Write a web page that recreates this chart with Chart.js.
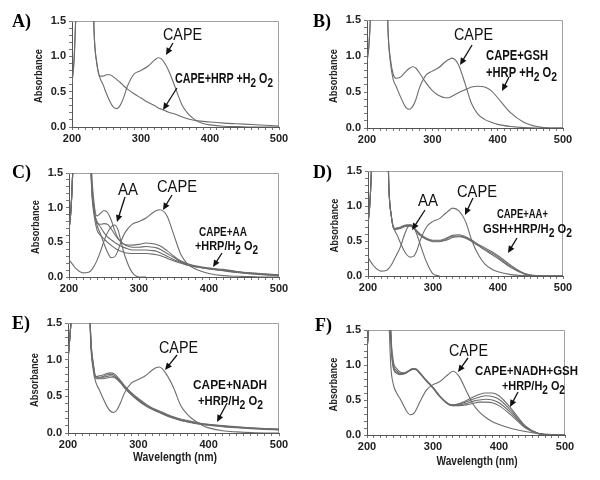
<!DOCTYPE html>
<html>
<head>
<meta charset="utf-8">
<script src="https://cdn.jsdelivr.net/npm/chart.js@4.4.1/dist/chart.umd.min.js"></script>
<style>
  html, body { margin: 0; padding: 0; background: #fff; }
  #fig { position: relative; width: 600px; height: 480px; overflow: hidden; background: #fff; }
  #fig canvas { position: absolute; }
</style>
</head>
<body>
<div id="fig"></div>
<script>
// wavelength grid (nm) shared by every spectrum
const wavelengths = [200, 203, 206, 210, 220, 228, 232, 236, 240, 245, 250, 255, 260, 265, 270, 275, 280, 290, 300, 310, 320, 325, 330, 340, 350, 360, 370, 380, 390, 400, 420, 440, 460, 480, 500];

// A) CAPE / CAPE+HRP+H2O2
const capeA = [0.62, 0.95, 1.7, 3, 3, 3, 1.35, 0.9, 0.71, 0.6, 0.47, 0.36, 0.28, 0.26, 0.31, 0.42, 0.57, 0.75, 0.8, 0.86, 0.95, 0.98, 0.96, 0.8, 0.55, 0.3, 0.17, 0.09, 0.05, 0.03, 0.01, 0.005, 0, 0, 0];
const prodA = [0.62, 0.95, 1.7, 3, 3, 3, 1.35, 0.9, 0.72, 0.72, 0.74, 0.74, 0.71, 0.67, 0.63, 0.58, 0.54, 0.47, 0.41, 0.35, 0.3, 0.27, 0.25, 0.21, 0.18, 0.14, 0.11, 0.09, 0.08, 0.07, 0.055, 0.045, 0.035, 0.025, 0.015];

// B) CAPE / CAPE+GSH+HRP+H2O2
const capeB = [0.92, 1.15, 1.7, 3, 3, 3, 1.4, 0.9, 0.68, 0.57, 0.46, 0.36, 0.28, 0.26, 0.3, 0.4, 0.55, 0.73, 0.79, 0.84, 0.92, 0.95, 0.97, 0.88, 0.62, 0.34, 0.19, 0.12, 0.08, 0.05, 0.02, 0.005, 0, 0, 0];
const prodB = [0.92, 1.15, 1.7, 3, 3, 3, 1.4, 0.95, 0.75, 0.69, 0.7, 0.74, 0.79, 0.83, 0.85, 0.83, 0.77, 0.63, 0.52, 0.45, 0.42, 0.42, 0.44, 0.49, 0.53, 0.57, 0.58, 0.57, 0.52, 0.42, 0.21, 0.08, 0.02, 0, 0];

// C) CAPE / AA / CAPE+AA+HRP/H2O2 (4 scans)
const capeC = [0.68, 1.0, 1.7, 3, 3, 3, 1.4, 0.95, 0.75, 0.62, 0.48, 0.36, 0.28, 0.29, 0.38, 0.53, 0.64, 0.76, 0.8, 0.85, 0.93, 0.96, 0.97, 0.88, 0.6, 0.32, 0.18, 0.12, 0.08, 0.05, 0.02, 0.01, 0.005, 0, 0];
const aaC = [0.25, 0.21, 0.17, 0.12, 0.06, 0.07, 0.1, 0.16, 0.24, 0.37, 0.52, 0.64, 0.72, 0.75, 0.68, 0.48, 0.3, 0.07, 0, 0, null, null, null, null, null, null, null, null, null, null, null, null, null, null, null];
const prodC1 = [0.68, 1.0, 1.7, 3, 3, 3, 1.6, 1.05, 0.88, 0.92, 0.96, 0.93, 0.83, 0.68, 0.56, 0.5, 0.47, 0.46, 0.47, 0.49, 0.48, 0.47, 0.45, 0.38, 0.3, 0.23, 0.19, 0.16, 0.145, 0.13, 0.11, 0.08, 0.06, 0.045, 0.03];
const prodC2 = [0.68, 1.0, 1.7, 3, 3, 3, 1.45, 0.98, 0.78, 0.76, 0.77, 0.76, 0.7, 0.62, 0.55, 0.5, 0.46, 0.43, 0.43, 0.44, 0.43, 0.42, 0.4, 0.34, 0.28, 0.22, 0.18, 0.155, 0.14, 0.125, 0.1, 0.075, 0.055, 0.04, 0.028];
const prodC3 = [0.68, 1.0, 1.7, 3, 3, 3, 1.4, 0.94, 0.8, 0.72, 0.64, 0.58, 0.54, 0.5, 0.47, 0.44, 0.42, 0.39, 0.39, 0.39, 0.38, 0.37, 0.35, 0.3, 0.25, 0.21, 0.17, 0.15, 0.135, 0.12, 0.095, 0.07, 0.05, 0.035, 0.025];
const prodC4 = [0.68, 1.0, 1.7, 3, 3, 3, 1.35, 0.88, 0.68, 0.6, 0.55, 0.5, 0.46, 0.42, 0.39, 0.37, 0.35, 0.34, 0.34, 0.34, 0.33, 0.32, 0.31, 0.27, 0.23, 0.2, 0.17, 0.15, 0.13, 0.115, 0.09, 0.065, 0.045, 0.03, 0.02];

// D) CAPE / AA / CAPE+AA+GSH+HRP/H2O2 (3 scans)
const capeD = [0.75, 1.05, 1.7, 3, 3, 3, 1.3, 0.85, 0.68, 0.58, 0.47, 0.37, 0.3, 0.27, 0.28, 0.36, 0.5, 0.7, 0.78, 0.82, 0.9, 0.94, 0.97, 0.93, 0.78, 0.5, 0.3, 0.17, 0.1, 0.06, 0.02, 0.005, 0, 0, 0];
const aaD = [0.27, 0.22, 0.18, 0.13, 0.07, 0.08, 0.11, 0.16, 0.23, 0.32, 0.42, 0.56, 0.68, 0.73, 0.7, 0.6, 0.46, 0.2, 0.03, 0, null, null, null, null, null, null, null, null, null, null, null, null, null, null, null];
const prodD1 = [0.75, 1.05, 1.7, 3, 3, 3, 1.3, 0.85, 0.68, 0.69, 0.7, 0.72, 0.73, 0.73, 0.7, 0.65, 0.6, 0.54, 0.51, 0.51, 0.54, 0.56, 0.58, 0.59, 0.56, 0.51, 0.45, 0.4, 0.35, 0.29, 0.15, 0.04, 0.005, 0, 0];
const prodD2 = [0.75, 1.05, 1.7, 3, 3, 3, 1.3, 0.85, 0.67, 0.68, 0.69, 0.71, 0.72, 0.72, 0.69, 0.64, 0.59, 0.53, 0.5, 0.5, 0.52, 0.55, 0.57, 0.57, 0.55, 0.5, 0.44, 0.38, 0.33, 0.27, 0.13, 0.035, 0, 0, 0];
const prodD3 = [0.75, 1.05, 1.7, 3, 3, 3, 1.3, 0.85, 0.66, 0.67, 0.68, 0.7, 0.71, 0.71, 0.68, 0.63, 0.58, 0.52, 0.49, 0.49, 0.51, 0.53, 0.55, 0.56, 0.54, 0.49, 0.43, 0.37, 0.31, 0.25, 0.12, 0.03, 0, 0, 0];

// E) CAPE / CAPE+NADH+HRP/H2O2 (4 scans)
const capeE = [1.0, 1.35, 1.8, 3, 3, 3, 1.3, 0.85, 0.68, 0.58, 0.47, 0.37, 0.3, 0.28, 0.32, 0.42, 0.54, 0.68, 0.73, 0.78, 0.86, 0.89, 0.9, 0.8, 0.62, 0.38, 0.25, 0.17, 0.11, 0.07, 0.03, 0.015, 0.005, 0, 0];
const prodE1 = [1.0, 1.35, 1.8, 3, 3, 3, 1.4, 0.95, 0.77, 0.78, 0.79, 0.81, 0.82, 0.81, 0.77, 0.71, 0.65, 0.55, 0.47, 0.4, 0.34, 0.32, 0.3, 0.26, 0.22, 0.19, 0.17, 0.15, 0.13, 0.12, 0.1, 0.085, 0.072, 0.062, 0.055];
const prodE2 = [1.0, 1.35, 1.8, 3, 3, 3, 1.38, 0.93, 0.76, 0.76, 0.77, 0.79, 0.8, 0.79, 0.75, 0.7, 0.64, 0.54, 0.46, 0.39, 0.33, 0.31, 0.29, 0.25, 0.21, 0.18, 0.16, 0.14, 0.125, 0.115, 0.095, 0.08, 0.068, 0.058, 0.05];
const prodE3 = [1.0, 1.35, 1.8, 3, 3, 3, 1.36, 0.91, 0.75, 0.75, 0.76, 0.77, 0.78, 0.77, 0.74, 0.69, 0.63, 0.53, 0.45, 0.38, 0.33, 0.3, 0.28, 0.24, 0.205, 0.175, 0.155, 0.135, 0.12, 0.11, 0.09, 0.076, 0.064, 0.054, 0.046];
const prodE4 = [1.0, 1.35, 1.8, 3, 3, 3, 1.34, 0.9, 0.74, 0.74, 0.74, 0.75, 0.76, 0.76, 0.73, 0.68, 0.62, 0.52, 0.44, 0.37, 0.32, 0.3, 0.28, 0.235, 0.2, 0.17, 0.15, 0.13, 0.115, 0.105, 0.086, 0.072, 0.06, 0.05, 0.042];

// F) CAPE / CAPE+NADH+GSH+HRP/H2O2 (4 scans)
const capeF = [1.2, 1.6, 2, 3, 3, 3, 2, 1.0, 0.72, 0.6, 0.52, 0.43, 0.34, 0.29, 0.3, 0.37, 0.47, 0.64, 0.72, 0.76, 0.84, 0.88, 0.91, 0.83, 0.64, 0.45, 0.33, 0.25, 0.19, 0.15, 0.09, 0.05, 0.02, 0.005, 0];
const prodF1 = [1.2, 1.6, 2, 3, 3, 3, 3, 1.5, 1.05, 0.95, 0.9, 0.89, 0.9, 0.93, 0.95, 0.94, 0.89, 0.78, 0.68, 0.56, 0.47, 0.44, 0.43, 0.45, 0.49, 0.54, 0.58, 0.6, 0.6, 0.56, 0.36, 0.13, 0.02, 0, 0];
const prodF2 = [1.2, 1.6, 2, 3, 3, 3, 3, 1.45, 1.0, 0.92, 0.88, 0.88, 0.9, 0.93, 0.95, 0.94, 0.89, 0.78, 0.68, 0.56, 0.47, 0.44, 0.43, 0.44, 0.47, 0.51, 0.54, 0.56, 0.55, 0.51, 0.33, 0.12, 0.02, 0, 0];
const prodF3 = [1.2, 1.6, 2, 3, 3, 3, 3, 1.42, 0.97, 0.9, 0.87, 0.87, 0.89, 0.92, 0.94, 0.93, 0.88, 0.77, 0.67, 0.55, 0.46, 0.43, 0.42, 0.43, 0.45, 0.48, 0.5, 0.51, 0.5, 0.46, 0.3, 0.11, 0.02, 0, 0];
const prodF4 = [1.2, 1.6, 2, 3, 3, 3, 3, 1.4, 0.95, 0.88, 0.86, 0.87, 0.89, 0.92, 0.94, 0.93, 0.88, 0.77, 0.67, 0.55, 0.46, 0.43, 0.42, 0.42, 0.43, 0.45, 0.47, 0.47, 0.46, 0.42, 0.27, 0.1, 0.02, 0, 0];

const sans = '"Liberation Sans", Arial, sans-serif';
const serif = '"Liberation Serif", "Times New Roman", serif';
const lineColor = '#6c6c6c';
Chart.defaults.font.family = sans;

// labels and arrows are placed in data units (nm, absorbance)
const panels = [
  { letter: 'A)', letterAt: [12, 27], canvas: [0, 0, 300, 150], area: [72, 21, 279, 127], xTitle: null,
    series: [capeA, prodA],
    notes: [
      { text: 'CAPE', x: 331.9, y: 1.231, w: 39, size: 16 },
      { text: 'CAPE+HRP +H_2 O_2', x: 349.2, y: 0.623, w: 98, size: 14, bold: true }
    ],
    arrows: [[346.3, 1.189, 336.2, 1.019], [352.1, 0.552, 331.9, 0.241]] },
  { letter: 'B)', letterAt: [313, 27], canvas: [300, 0, 300, 150], area: [367, 20, 563, 128], xTitle: null,
    series: [capeB, prodB],
    notes: [
      { text: 'CAPE', x: 333.2, y: 1.222, w: 39, size: 16 },
      { text: 'CAPE+GSH', x: 382.2, y: 0.944, w: 62, size: 14, bold: true },
      { text: '+HRP +H_2 O_2', x: 382.2, y: 0.708, w: 71, size: 14, bold: true }
    ],
    arrows: [[360.8, 1.153, 342.4, 0.875], [417.4, 0.708, 406.7, 0.514]] },
  { letter: 'C)', letterAt: [12, 178], canvas: [0, 150, 300, 150], area: [69, 173, 279, 277], xTitle: null,
    series: [capeC, aaC, prodC1, prodC2, prodC3, prodC4],
    notes: [
      { text: 'AA', x: 270, y: 1.183, w: 20, size: 16 },
      { text: 'CAPE', x: 325.7, y: 1.226, w: 40, size: 16 },
      { text: 'CAPE+AA', x: 385.7, y: 0.591, w: 48, size: 13, bold: true },
      { text: '+HRP/H_2 O_2', x: 380, y: 0.389, w: 63, size: 13, bold: true }
    ],
    arrows: [[280, 1.154, 268.6, 0.793], [347.1, 1.183, 334.3, 0.966], [418.6, 0.346, 405.7, 0.144]] },
  { letter: 'D)', letterAt: [313, 178], canvas: [300, 150, 300, 150], area: [368, 171, 563, 276], xTitle: null,
    series: [capeD, aaD, prodD1, prodD2, prodD3],
    notes: [
      { text: 'AA', x: 276.9, y: 1.0, w: 20, size: 16 },
      { text: 'CAPE', x: 336.9, y: 1.129, w: 40, size: 16 },
      { text: 'CAPE+AA+', x: 398.4, y: 0.829, w: 51, size: 13, bold: true },
      { text: 'GSH+HRP/H_2 O_2', x: 376.9, y: 0.614, w: 89, size: 13, bold: true }
    ],
    arrows: [[287.7, 0.943, 267.7, 0.657], [361.5, 1.114, 349.2, 0.871], [429.2, 0.543, 415.3, 0.329]] },
  { letter: 'E)', letterAt: [12, 329], canvas: [0, 300, 300, 180], area: [68, 323, 279, 433], xTitle: [175, 461, 84],
    series: [capeE, prodE1, prodE2, prodE3, prodE4],
    notes: [
      { text: 'CAPE', x: 329.4, y: 1.091, w: 39, size: 16 },
      { text: 'CAPE+NADH', x: 377.8, y: 0.6, w: 74, size: 13, bold: true },
      { text: '+HRP/H_2 O_2', x: 384.9, y: 0.382, w: 65, size: 13, bold: true }
    ],
    arrows: [[355, 1.064, 337.9, 0.859], [426.1, 0.409, 411.9, 0.15]] },
  { letter: 'F)', letterAt: [315, 331], canvas: [300, 300, 300, 180], area: [367, 330, 565, 435], xTitle: [477, 465, 81],
    series: [capeF, prodF1, prodF2, prodF3, prodF4],
    notes: [
      { text: 'CAPE', x: 324.2, y: 1.129, w: 39, size: 16 },
      { text: 'CAPE+NADH+GSH', x: 363.6, y: 0.857, w: 103, size: 13, bold: true },
      { text: '+HRP/H_2 O_2', x: 404.5, y: 0.643, w: 63, size: 13, bold: true }
    ],
    arrows: [[353, 1.1, 337.9, 0.9], [428.8, 0.614, 416.6, 0.4]] }
];

function toPoints(values) {
  return wavelengths.map((w, i) => ({ x: w, y: values[i] }));
}

// text squeezed to a given width, "_2" means a lowered 2
function drawNote(ctx, text, px, py, width, size, bold) {
  const weight = bold ? 'bold ' : '';
  const font = weight + size + 'px ' + sans;
  const subFont = weight + Math.round(size * 0.9) + 'px ' + sans;
  const parts = text.split(/_(\d)/);
  let natural = 0;
  parts.forEach((p, i) => { ctx.font = i % 2 ? subFont : font; natural += ctx.measureText(p).width; });
  ctx.save();
  ctx.translate(px, py);
  ctx.scale(width / natural, 1);
  let cx = 0;
  parts.forEach((p, i) => {
    ctx.font = i % 2 ? subFont : font;
    ctx.fillText(p, cx, i % 2 ? Math.round(size * 0.32) : 0);
    cx += ctx.measureText(p).width;
  });
  ctx.restore();
}

function drawArrow(ctx, x1, y1, x2, y2) {
  const ang = Math.atan2(y2 - y1, x2 - x1);
  const L = 7, W = 3.2;
  ctx.beginPath();
  ctx.moveTo(x1, y1);
  ctx.lineTo(x2 - Math.cos(ang) * L * 0.8, y2 - Math.sin(ang) * L * 0.8);
  ctx.stroke();
  ctx.beginPath();
  ctx.moveTo(x2, y2);
  ctx.lineTo(x2 - L * Math.cos(ang) + W * Math.sin(ang), y2 - L * Math.sin(ang) - W * Math.cos(ang));
  ctx.lineTo(x2 - L * Math.cos(ang) - W * Math.sin(ang), y2 - L * Math.sin(ang) + W * Math.cos(ang));
  ctx.closePath();
  ctx.fill();
}

function decor(p) {
  const [cl, ct] = p.canvas;
  return {
    id: 'decor',
    beforeDatasetsDraw(chart) {
      // light frame on top and right of the plot
      const { ctx, chartArea: a } = chart;
      ctx.save();
      ctx.strokeStyle = '#a0a0a0';
      ctx.lineWidth = 1;
      ctx.beginPath();
      ctx.moveTo(a.left, a.top + 0.5);
      ctx.lineTo(a.right - 0.5, a.top + 0.5);
      ctx.lineTo(a.right - 0.5, a.bottom);
      ctx.stroke();
      ctx.restore();
    },
    afterDraw(chart) {
      const { ctx, chartArea: a, scales: { x, y } } = chart;
      ctx.save();
      ctx.fillStyle = '#000';
      ctx.textBaseline = 'alphabetic';
      ctx.textAlign = 'left';

      ctx.font = 'bold 18px ' + serif;
      ctx.fillText(p.letter, p.letterAt[0] - cl, p.letterAt[1] - ct);

      // y title
      ctx.save();
      ctx.translate(a.left - 34, (a.top + a.bottom) / 2 + 2);
      ctx.rotate(-Math.PI / 2);
      ctx.fillStyle = '#222';
      drawNote(ctx, 'Absorbance', -27, 4, 54, 11, true);
      ctx.restore();

      if (p.xTitle) {
        const [tx, ty, tw] = p.xTitle;
        ctx.fillStyle = '#222';
        drawNote(ctx, 'Wavelength (nm)', tx - cl - tw / 2, ty - ct, tw, 12, true);
      }

      ctx.fillStyle = '#111';
      p.notes.forEach(n => {
        drawNote(ctx, n.text, x.getPixelForValue(n.x), y.getPixelForValue(n.y), n.w, n.size, n.bold);
      });

      ctx.strokeStyle = '#111';
      ctx.fillStyle = '#111';
      ctx.lineWidth = 1.3;
      p.arrows.forEach(([x1, y1, x2, y2]) => {
        drawArrow(ctx, x.getPixelForValue(x1), y.getPixelForValue(y1), x.getPixelForValue(x2), y.getPixelForValue(y2));
      });
      ctx.restore();
    }
  };
}

const fig = document.getElementById('fig');

panels.forEach(p => {
  const [cl, ct, cw, ch] = p.canvas;
  const [al, at, ar, ab] = p.area;
  const cv = document.createElement('canvas');
  cv.width = cw;
  cv.height = ch;
  cv.style.left = cl + 'px';
  cv.style.top = ct + 'px';
  cv.style.width = cw + 'px';
  cv.style.height = ch + 'px';
  fig.appendChild(cv);

  new Chart(cv, {
    type: 'line',
    data: {
      datasets: p.series.map(s => ({
        data: toPoints(s),
        borderColor: lineColor,
        borderWidth: 1.1,
        pointRadius: 0,
        fill: false,
        cubicInterpolationMode: 'monotone'
      }))
    },
    options: {
      responsive: false,
      animation: false,
      devicePixelRatio: 1,
      layout: { padding: { top: at - ct, right: cl + cw - ar, left: 0, bottom: 0 } },
      plugins: { legend: { display: false }, tooltip: { enabled: false } },
      scales: {
        x: {
          type: 'linear', min: 200, max: 500,
          ticks: {
            stepSize: 10, autoSkip: false, maxRotation: 0, padding: 2, color: '#222',
            font: { size: 11, weight: 'bold' },
            callback: v => (v % 100 === 0 ? v : '')
          },
          grid: { drawOnChartArea: false, tickLength: 3, color: '#777' },
          border: { color: '#555' },
          afterFit: s => { s.height = ct + ch - ab; }
        },
        y: {
          min: 0, max: 1.5,
          ticks: {
            stepSize: 0.1, autoSkip: false, padding: 3, color: '#222',
            font: { size: 11, weight: 'bold' },
            callback: v => (Math.abs(v * 2 - Math.round(v * 2)) < 1e-6 ? v.toFixed(1) : '')
          },
          grid: { drawOnChartArea: false, tickLength: 3, color: '#777' },
          border: { color: '#555' },
          afterFit: s => { s.width = al - cl; }
        }
      }
    },
    plugins: [decor(p)]
  });
});
</script>
</body>
</html>
